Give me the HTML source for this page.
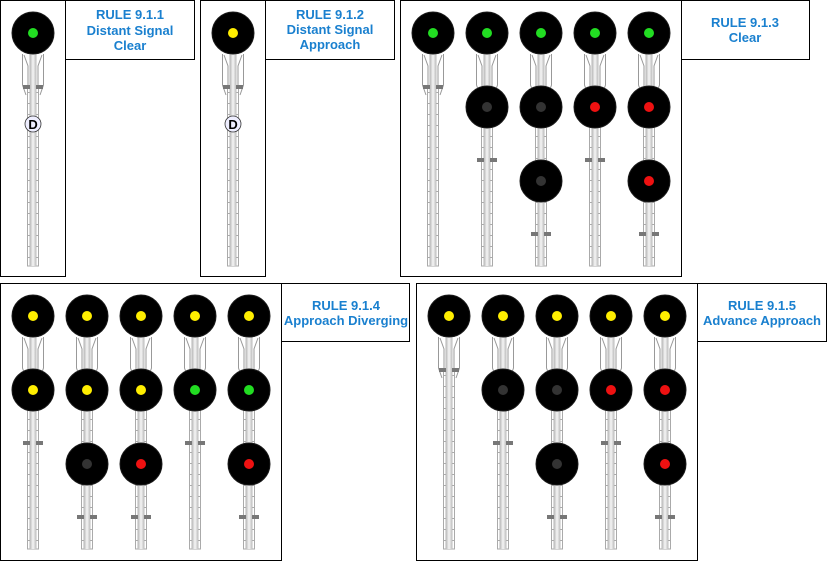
<!DOCTYPE html>
<html><head><meta charset="utf-8"><style>
html,body{margin:0;padding:0;background:#fff;}
svg{display:block;}
text{font-family:"Liberation Sans",sans-serif;font-weight:bold;font-size:13px;fill:#1a80cf;text-anchor:middle;}
</style></head><body>
<svg width="827" height="561" viewBox="0 0 827 561" xmlns="http://www.w3.org/2000/svg">
<defs>
<linearGradient id="pg" x1="0" x2="1" y1="0" y2="0">
<stop offset="0" stop-color="#b0b0b0"/><stop offset="0.5" stop-color="#f6f6f6"/><stop offset="1" stop-color="#b8b8b8"/>
</linearGradient>
<g id="pole">
<rect x="-5.5" y="21" width="11" height="212" fill="#fff" stroke="#aaa" stroke-width="1"/>
<rect x="-3.5" y="21" width="7" height="212" fill="url(#pg)"/>
<line x1="-4.5" y1="26" x2="-4.5" y2="233" stroke="#aaa" stroke-width="2.5" stroke-dasharray="1 10"/>
<line x1="4.5" y1="26" x2="4.5" y2="233" stroke="#aaa" stroke-width="2.5" stroke-dasharray="1 10"/>
</g>
<g id="hood">
<rect x="-10.5" y="21" width="21" height="33" fill="#fff"/>
<rect x="-3.5" y="21" width="7" height="40" fill="url(#pg)"/>
<path d="M-10.5 21 V52 L-7 62 M10.5 21 V52 L7 62 M-9 22 L-5 33 V54 M9 22 L5 33 V54" fill="none" stroke="#999" stroke-width="1"/>
</g>
<g id="bars"><rect x="-10" y="-2" width="7" height="4" fill="#777"/><rect x="3" y="-2" width="7" height="4" fill="#777"/></g>
<circle id="head" r="21" fill="#000" stroke="#1a1a1a" stroke-width="1"/>
</defs>
<g fill="none" stroke="#000" stroke-width="1">
<rect x="0.5" y="0.5" width="65" height="276"/><rect x="65.5" y="0.5" width="129" height="59"/>
<rect x="200.5" y="0.5" width="65" height="276"/><rect x="265.5" y="0.5" width="129" height="59"/>
<rect x="400.5" y="0.5" width="281" height="276"/><rect x="681.5" y="0.5" width="128" height="59"/>
<rect x="0.5" y="283.5" width="281" height="277"/><rect x="281.5" y="283.5" width="128" height="58"/>
<rect x="416.5" y="283.5" width="281" height="277"/><rect x="697.5" y="283.5" width="129" height="58"/>
</g>
<text x="130" y="19">RULE 9.1.1</text><text x="130" y="35">Distant Signal</text><text x="130" y="50">Clear</text>
<text x="330" y="19">RULE 9.1.2</text><text x="330" y="34">Distant Signal</text><text x="330" y="49">Approach</text>
<text x="745" y="27">RULE 9.1.3</text><text x="745" y="42">Clear</text>
<text x="346" y="310">RULE 9.1.4</text><text x="346" y="325">Approach Diverging</text>
<text x="762" y="310">RULE 9.1.5</text><text x="762" y="325">Advance Approach</text>

<g transform="translate(33,33)"><use href="#pole"/><use href="#hood"/><use href="#bars" y="54"/><use href="#head"/><circle r="5" fill="#22dd22"/>
<circle cy="91" r="8" fill="#eef" stroke="#333" stroke-width="0.8"/><text y="96" style="fill:#000;font-size:13px">D</text></g>
<g transform="translate(233,33)"><use href="#pole"/><use href="#hood"/><use href="#bars" y="54"/><use href="#head"/><circle r="5" fill="#ffee00"/>
<circle cy="91" r="8" fill="#eef" stroke="#333" stroke-width="0.8"/><text y="96" style="fill:#000;font-size:13px">D</text></g>

<g transform="translate(433,33)"><use href="#pole"/><use href="#hood"/><use href="#bars" y="54"/><use href="#head"/><circle r="5" fill="#22dd22"/></g>
<g transform="translate(487,33)"><use href="#pole"/><use href="#hood"/><use href="#bars" y="127"/><use href="#head"/><circle r="5" fill="#22dd22"/><use href="#head" y="74"/><circle cy="74" r="5" fill="#333"/></g>
<g transform="translate(541,33)"><use href="#pole"/><use href="#hood"/><use href="#bars" y="201"/><use href="#head"/><circle r="5" fill="#22dd22"/><use href="#head" y="74"/><circle cy="74" r="5" fill="#333"/><use href="#head" y="148"/><circle cy="148" r="5" fill="#333"/></g>
<g transform="translate(595,33)"><use href="#pole"/><use href="#hood"/><use href="#bars" y="127"/><use href="#head"/><circle r="5" fill="#22dd22"/><use href="#head" y="74"/><circle cy="74" r="5" fill="#ee1111"/></g>
<g transform="translate(649,33)"><use href="#pole"/><use href="#hood"/><use href="#bars" y="201"/><use href="#head"/><circle r="5" fill="#22dd22"/><use href="#head" y="74"/><circle cy="74" r="5" fill="#ee1111"/><use href="#head" y="148"/><circle cy="148" r="5" fill="#ee1111"/></g>

<g transform="translate(33,316)"><use href="#pole"/><use href="#hood"/><use href="#bars" y="127"/><use href="#head"/><circle r="5" fill="#ffee00"/><use href="#head" y="74"/><circle cy="74" r="5" fill="#ffee00"/></g>
<g transform="translate(87,316)"><use href="#pole"/><use href="#hood"/><use href="#bars" y="201"/><use href="#head"/><circle r="5" fill="#ffee00"/><use href="#head" y="74"/><circle cy="74" r="5" fill="#ffee00"/><use href="#head" y="148"/><circle cy="148" r="5" fill="#333"/></g>
<g transform="translate(141,316)"><use href="#pole"/><use href="#hood"/><use href="#bars" y="201"/><use href="#head"/><circle r="5" fill="#ffee00"/><use href="#head" y="74"/><circle cy="74" r="5" fill="#ffee00"/><use href="#head" y="148"/><circle cy="148" r="5" fill="#ee1111"/></g>
<g transform="translate(195,316)"><use href="#pole"/><use href="#hood"/><use href="#bars" y="127"/><use href="#head"/><circle r="5" fill="#ffee00"/><use href="#head" y="74"/><circle cy="74" r="5" fill="#22dd22"/></g>
<g transform="translate(249,316)"><use href="#pole"/><use href="#hood"/><use href="#bars" y="201"/><use href="#head"/><circle r="5" fill="#ffee00"/><use href="#head" y="74"/><circle cy="74" r="5" fill="#22dd22"/><use href="#head" y="148"/><circle cy="148" r="5" fill="#ee1111"/></g>

<g transform="translate(449,316)"><use href="#pole"/><use href="#hood"/><use href="#bars" y="54"/><use href="#head"/><circle r="5" fill="#ffee00"/></g>
<g transform="translate(503,316)"><use href="#pole"/><use href="#hood"/><use href="#bars" y="127"/><use href="#head"/><circle r="5" fill="#ffee00"/><use href="#head" y="74"/><circle cy="74" r="5" fill="#333"/></g>
<g transform="translate(557,316)"><use href="#pole"/><use href="#hood"/><use href="#bars" y="201"/><use href="#head"/><circle r="5" fill="#ffee00"/><use href="#head" y="74"/><circle cy="74" r="5" fill="#333"/><use href="#head" y="148"/><circle cy="148" r="5" fill="#333"/></g>
<g transform="translate(611,316)"><use href="#pole"/><use href="#hood"/><use href="#bars" y="127"/><use href="#head"/><circle r="5" fill="#ffee00"/><use href="#head" y="74"/><circle cy="74" r="5" fill="#ee1111"/></g>
<g transform="translate(665,316)"><use href="#pole"/><use href="#hood"/><use href="#bars" y="201"/><use href="#head"/><circle r="5" fill="#ffee00"/><use href="#head" y="74"/><circle cy="74" r="5" fill="#ee1111"/><use href="#head" y="148"/><circle cy="148" r="5" fill="#ee1111"/></g>
</svg>
</body></html>
